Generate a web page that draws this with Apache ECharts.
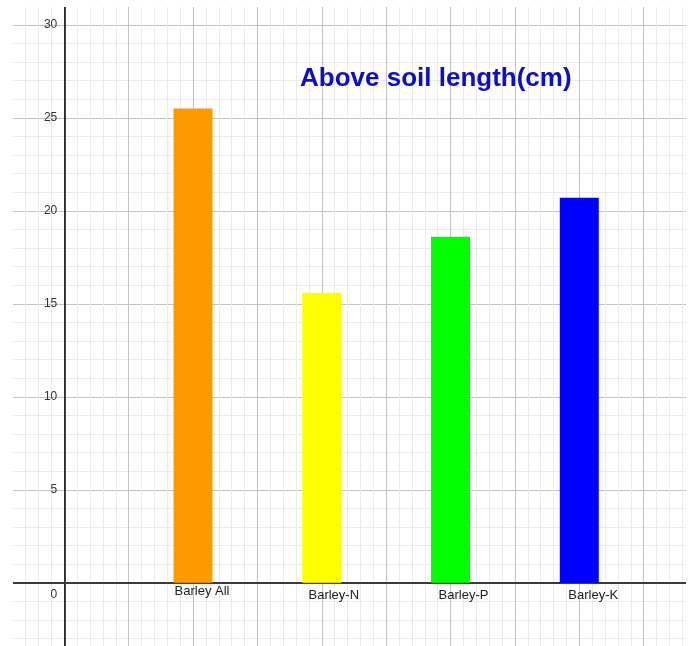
<!DOCTYPE html>
<html>
<head>
<meta charset="utf-8">
<script src="https://cdn.jsdelivr.net/npm/echarts@6/dist/echarts.min.js"></script>
<style>html,body{margin:0;padding:0;background:#fff;}#c{width:691px;height:646px;}</style>
</head>
<body>
<div id="c"></div>
<script>
// ---- data ----
const categories = ['Barley All', 'Barley-N', 'Barley-P', 'Barley-K'];
const xPositions = [2, 4, 6, 8];
const values = [25.5, 15.6, 18.6, 20.7];
const barColors = ['#ff9900', '#ffff00', '#00ff00', '#0000ff'];
const yTickLabels = [0, 5, 10, 15, 20, 25, 30];
const titleText = 'Above soil length(cm)';

// ---- label style offsets (presentation only) ----
const labelOffsets = [[9, 0], [12, 4.5], [13, 4.5], [14, 4.5]];

const chart = echarts.init(document.getElementById('c'), null, {renderer: 'canvas'});

const barData = xPositions.map((x, i) => ({
  value: [x, values[i]],
  name: categories[i],
  itemStyle: {color: barColors[i]},
  label: {offset: labelOffsets[i]}
}));

const option = {
  animation: false,
  backgroundColor: '#ffffff',
  grid: {left: -0.13, right: -17.05, top: -68.2, bottom: -29.8, containLabel: false, outerBoundsMode: 'none'},
  xAxis: {
    type: 'value', min: -1, max: 10, interval: 1,
    axisLine: {show: true, onZero: true, lineStyle: {color: '#3a3a3a', width: 2}},
    axisTick: {show: false},
    axisLabel: {show: false},
    splitLine: {show: true, lineStyle: {color: '#c4c4c4', width: 1}},
    minorTick: {show: false, splitNumber: 5},
    minorSplitLine: {show: true, lineStyle: {color: '#ebebeb', width: 1}}
  },
  yAxis: {
    type: 'value', min: -5, max: 35, interval: 5,
    offset: -64.38,
    axisLine: {show: true, onZero: false, lineStyle: {color: '#000000', width: 1.5}},
    axisTick: {show: false},
    axisLabel: {
      show: true, margin: 7, color: '#333', fontSize: 12,
      fontFamily: 'Liberation Sans, Arial, sans-serif',
      formatter: function (v) {
        if (yTickLabels.indexOf(v) < 0) return '';
        return v === 0 ? '{z|0}' : String(v);
      },
      rich: {z: {padding: [24, 0, 0, 0], fontSize: 12, color: '#333', fontFamily: 'Liberation Sans, Arial, sans-serif'}}
    },
    splitLine: {show: true, lineStyle: {color: '#c4c4c4', width: 1}},
    minorTick: {show: false, splitNumber: 5},
    minorSplitLine: {show: true, lineStyle: {color: '#ebebeb', width: 1}}
  },
  series: [{
    type: 'bar',
    barWidth: 39,
    data: barData,
    label: {
      show: true, position: 'bottom', distance: 2,
      formatter: p => p.name,
      color: '#222', fontSize: 13,
      fontFamily: 'Liberation Sans, Arial, sans-serif'
    },
    z: 5
  }],
  graphic: [
    {type: 'rect', left: 0, top: 0, shape: {width: 13, height: 646}, style: {fill: '#fff'}, z: 100, silent: true},
    {type: 'rect', left: 0, top: 0, shape: {width: 691, height: 7}, style: {fill: '#fff'}, z: 100, silent: true},
    {type: 'rect', left: 686, top: 0, shape: {width: 5, height: 646}, style: {fill: '#fff'}, z: 100, silent: true},
    {type: 'text', x: 300, y: 79, z: 101, silent: true,
      style: {text: titleText, fill: '#0d0dcc', font: 'bold 26px "Liberation Sans", Arial, sans-serif',
        align: 'left', verticalAlign: 'middle'}}
  ]
};
chart.setOption(option);
</script>
</body>
</html>
